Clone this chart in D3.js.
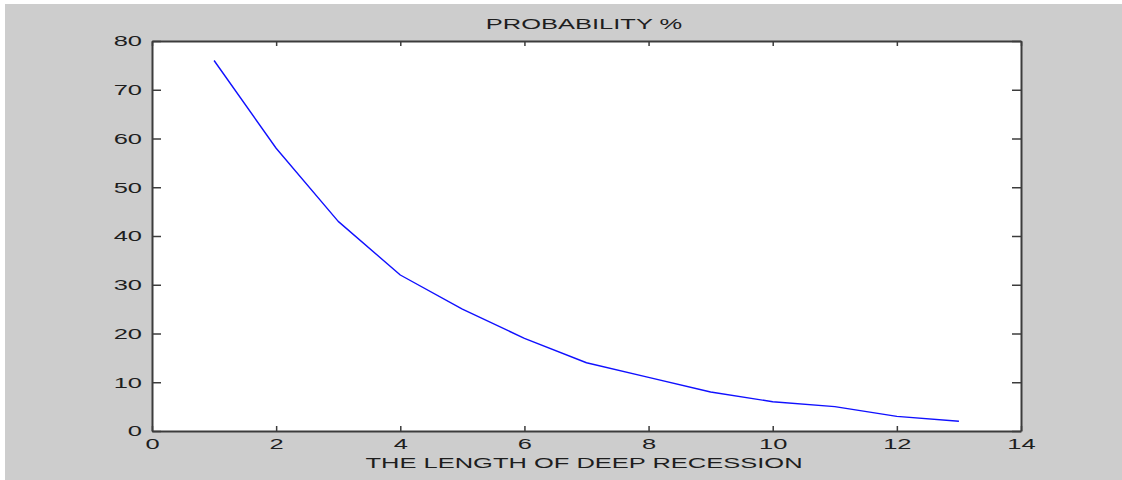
<!DOCTYPE html>
<html>
<head>
<meta charset="utf-8">
<script src="https://cdn.jsdelivr.net/npm/d3@7"></script>
<style>
  html, body { margin: 0; padding: 0; background: #ffffff; }
  svg { display: block; }
  text { font-family: "Liberation Sans", Arial, sans-serif; fill: #1e1e1e; }
</style>
</head>
<body>
<script>
// Probability (%) that a deep recession lasts a given number of periods
const lengths = [1, 2, 3, 4, 5, 6, 7, 8, 9, 10, 11, 12, 13];
const probability = [76, 58, 43, 32, 25, 19, 14, 11, 8, 6, 5, 3, 2];
const xTicks = [0, 2, 4, 6, 8, 10, 12, 14];
const yTicks = [0, 10, 20, 30, 40, 50, 60, 70, 80];
const titleText = "PROBABILITY %";
const xLabelText = "THE LENGTH OF DEEP RECESSION";

const W = 1122, H = 480;
const box = { left: 152, right: 1021, top: 41, bottom: 431 };
const stretch = 1.7;   // wide glyph aspect of the figure's lettering
const fontSize = 15;

const svg = d3.select("body").append("svg").attr("width", W).attr("height", H);

// figure background
svg.append("rect").attr("x", 5).attr("y", 4).attr("width", W - 5).attr("height", H - 4)
  .attr("fill", "#cdcdcd");

// axes area
svg.append("rect").attr("x", box.left).attr("y", box.top)
  .attr("width", box.right - box.left).attr("height", box.bottom - box.top)
  .attr("fill", "#ffffff");

const x = d3.scaleLinear().domain([0, 14]).range([box.left, box.right]);
const y = d3.scaleLinear().domain([0, 80]).range([box.bottom, box.top]);

const axisColor = "#3c3c3c";

function styleAxis(g) {
  g.select(".domain").attr("stroke", axisColor).attr("stroke-width", 2);
  g.selectAll(".tick line").attr("stroke", axisColor).attr("stroke-width", 1.5);
}

// bottom axis with labels
const gx = svg.append("g").attr("transform", `translate(0,${box.bottom})`)
  .call(d3.axisBottom(x).tickValues(xTicks).tickSize(-5).tickSizeOuter(0).tickPadding(7));
styleAxis(gx);
gx.selectAll(".tick text")
  .attr("font-size", fontSize)
  .attr("transform", `scale(${stretch},1)`);

// left axis with labels
const gy = svg.append("g").attr("transform", `translate(${box.left},0)`)
  .call(d3.axisLeft(y).tickValues(yTicks).tickSize(-9).tickSizeOuter(0).tickPadding(10));
styleAxis(gy);
gy.selectAll(".tick text")
  .attr("font-size", fontSize)
  .attr("x", -10 / stretch)
  .attr("transform", `scale(${stretch},1)`);

// top and right box edges with inward ticks
const gt = svg.append("g").attr("transform", `translate(0,${box.top})`)
  .call(d3.axisTop(x).tickValues(xTicks).tickSize(-5).tickSizeOuter(0).tickFormat(""));
styleAxis(gt);
const gr = svg.append("g").attr("transform", `translate(${box.right},0)`)
  .call(d3.axisRight(y).tickValues(yTicks).tickSize(-9).tickSizeOuter(0).tickFormat(""));
styleAxis(gr);

// probability curve
const line = d3.line().x((d, i) => x(lengths[i])).y(d => y(d));
svg.append("path").datum(probability)
  .attr("d", line)
  .attr("fill", "none")
  .attr("stroke", "#1010ff")
  .attr("stroke-width", 1.4)
  .attr("stroke-linejoin", "round");

// title and axis label
const cx = 584;
svg.append("text")
  .attr("transform", `translate(${cx},29) scale(${stretch},1)`)
  .attr("text-anchor", "middle")
  .attr("font-size", fontSize)
  .text(titleText);

svg.append("text")
  .attr("transform", `translate(${cx},468) scale(${stretch},1)`)
  .attr("text-anchor", "middle")
  .attr("font-size", fontSize)
  .text(xLabelText);
</script>
</body>
</html>
